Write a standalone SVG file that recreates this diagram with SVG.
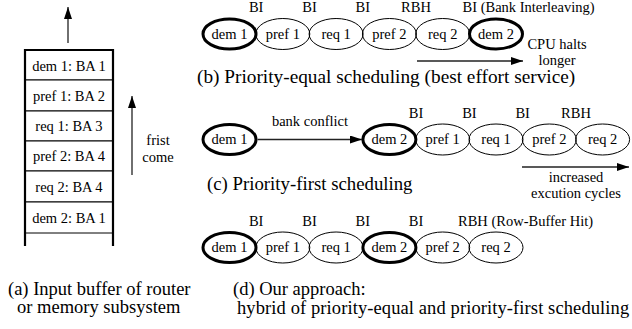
<svg xmlns="http://www.w3.org/2000/svg" width="632" height="329" viewBox="0 0 632 329" font-family="'Liberation Serif', 'DejaVu Serif', serif">
<style>
text{font-family:'Liberation Serif','DejaVu Serif',serif;fill:#000}
.s{font-size:14.5px}
.cap{font-size:18.5px}
.m{text-anchor:middle}
.cell{fill:#fff;stroke:#000;stroke-width:1}
.frame{stroke:#000;stroke-width:2.2;fill:none}
.n{fill:none;stroke:#000;stroke-width:1}
.d{fill:none;stroke:#000;stroke-width:3}
.arr{stroke:#222;stroke-width:1.3;fill:none;marker-end:url(#ah)}
</style>
<defs>
<marker id="ah" markerUnits="userSpaceOnUse" markerWidth="12" markerHeight="8" refX="12" refY="4" orient="auto">
<path d="M0,0 L12,4 L0,8 Z" fill="#000"/>
</marker>
</defs>

<!-- (a) input buffer -->
<g id="buffer">
<g id="cell-dem1"><rect class="cell" x="25" y="50" width="88" height="30"/><text class="s m" x="69" y="70.5">dem 1: BA 1</text></g>
<g id="cell-pref1"><rect class="cell" x="25" y="80" width="88" height="31"/><text class="s m" x="69" y="101">pref 1: BA 2</text></g>
<g id="cell-req1"><rect class="cell" x="25" y="111" width="88" height="30"/><text class="s m" x="69" y="131">req 1: BA 3</text></g>
<g id="cell-pref2"><rect class="cell" x="25" y="141" width="88" height="30"/><text class="s m" x="69" y="161">pref 2: BA 4</text></g>
<g id="cell-req2"><rect class="cell" x="25" y="171" width="88" height="31"/><text class="s m" x="69" y="192">req 2: BA 4</text></g>
<g id="cell-dem2"><rect class="cell" x="25" y="202" width="88" height="31"/><text class="s m" x="69" y="223">dem 2: BA 1</text></g>
<path class="frame" d="M25,246 V50 H113 V246"/>
</g>
<text class="s m" x="158" y="145">frist</text>
<text class="s m" x="158" y="162">come</text>

<!-- (b) priority-equal -->
<g id="row-b">
<g id="b-dem1"><ellipse class="d" cx="229.5" cy="34" rx="26.5" ry="15"/><text class="s m" x="229.5" y="38.5">dem 1</text></g>
<g id="b-pref1"><ellipse class="n" cx="282.8" cy="34" rx="27" ry="15.5"/><text class="s m" x="282.8" y="38.5">pref 1</text></g>
<g id="b-req1"><ellipse class="n" cx="336.1" cy="34" rx="27" ry="15.5"/><text class="s m" x="336.1" y="38.5">req 1</text></g>
<g id="b-pref2"><ellipse class="n" cx="389.4" cy="34" rx="27" ry="15.5"/><text class="s m" x="389.4" y="38.5">pref 2</text></g>
<g id="b-req2"><ellipse class="n" cx="442.7" cy="34" rx="27" ry="15.5"/><text class="s m" x="442.7" y="38.5">req 2</text></g>
<g id="b-dem2"><ellipse class="d" cx="496" cy="34" rx="26.5" ry="15"/><text class="s m" x="496" y="38.5">dem 2</text></g>
</g>
<text class="s m" x="256.2" y="11.5">BI</text>
<text class="s m" x="309.5" y="11.5">BI</text>
<text class="s m" x="362.8" y="11.5">BI</text>
<text class="s m" x="416" y="11.5">RBH</text>
<text class="s" x="462.5" y="11.5">BI (Bank Interleaving)</text>
<text class="s m" x="557" y="49">CPU halts</text>
<text class="s m" x="557" y="64.5">longer</text>
<text class="cap" x="197" y="83" style="font-size:19.3px">(b) Priority-equal scheduling (best effort service)</text>

<!-- (c) priority-first -->
<g id="row-c">
<g id="c-dem1"><ellipse class="d" cx="229.5" cy="139.5" rx="26.5" ry="15"/><text class="s m" x="229.5" y="144">dem 1</text></g>
<g id="c-dem2"><ellipse class="d" cx="389.4" cy="139.5" rx="26.5" ry="15"/><text class="s m" x="389.4" y="144">dem 2</text></g>
<g id="c-pref1"><ellipse class="n" cx="442.7" cy="139.5" rx="27" ry="15.5"/><text class="s m" x="442.7" y="144">pref 1</text></g>
<g id="c-req1"><ellipse class="n" cx="496" cy="139.5" rx="27" ry="15.5"/><text class="s m" x="496" y="144">req 1</text></g>
<g id="c-pref2"><ellipse class="n" cx="549.3" cy="139.5" rx="27" ry="15.5"/><text class="s m" x="549.3" y="144">pref 2</text></g>
<g id="c-req2"><ellipse class="n" cx="602.6" cy="139.5" rx="27" ry="15.5"/><text class="s m" x="602.6" y="144">req 2</text></g>
</g>
<text class="s m" x="310" y="126">bank conflict</text>
<text class="s m" x="416" y="118">BI</text>
<text class="s m" x="469.4" y="118">BI</text>
<text class="s m" x="522.7" y="118">BI</text>
<text class="s m" x="576" y="118">RBH</text>
<text class="s m" x="576" y="182">increased</text>
<text class="s m" x="576" y="198">excution cycles</text>
<text class="cap" x="207" y="190" style="font-size:18.8px">(c) Priority-first scheduling</text>

<!-- (d) our approach -->
<g id="row-d">
<g id="d-dem1"><ellipse class="d" cx="229.5" cy="247.5" rx="26.5" ry="15"/><text class="s m" x="229.5" y="252">dem 1</text></g>
<g id="d-pref1"><ellipse class="n" cx="282.8" cy="247.5" rx="27" ry="15.5"/><text class="s m" x="282.8" y="252">pref 1</text></g>
<g id="d-req1"><ellipse class="n" cx="336.1" cy="247.5" rx="27" ry="15.5"/><text class="s m" x="336.1" y="252">req 1</text></g>
<g id="d-dem2"><ellipse class="d" cx="389.4" cy="247.5" rx="26.5" ry="15"/><text class="s m" x="389.4" y="252">dem 2</text></g>
<g id="d-pref2"><ellipse class="n" cx="442.7" cy="247.5" rx="27" ry="15.5"/><text class="s m" x="442.7" y="252">pref 2</text></g>
<g id="d-req2"><ellipse class="n" cx="496" cy="247.5" rx="27" ry="15.5"/><text class="s m" x="496" y="252">req 2</text></g>
</g>
<text class="s m" x="256.2" y="226">BI</text>
<text class="s m" x="309.5" y="226">BI</text>
<text class="s m" x="362.8" y="226">BI</text>
<text class="s m" x="416" y="226">BI</text>
<text class="s" x="458" y="226">RBH (Row-Buffer Hit)</text>

<text class="cap" x="8" y="294.5">(a) Input buffer of router</text>
<text class="cap" x="17" y="313">or memory subsystem</text>
<text class="cap" x="233" y="294.5">(d) Our approach:</text>
<text class="cap" x="237" y="313.5" style="letter-spacing:0.1px">hybrid of priority-equal and priority-first scheduling</text>

<g id="connectors">
<line class="arr" x1="68" y1="43" x2="68" y2="7"/>
<line class="arr" x1="132" y1="175" x2="132" y2="96"/>
<line class="arr" x1="417" y1="61" x2="523" y2="61"/>
<line class="arr" x1="257.5" y1="139.5" x2="362" y2="139.5"/>
<line class="arr" x1="522" y1="167" x2="629" y2="167"/>
</g>
</svg>
